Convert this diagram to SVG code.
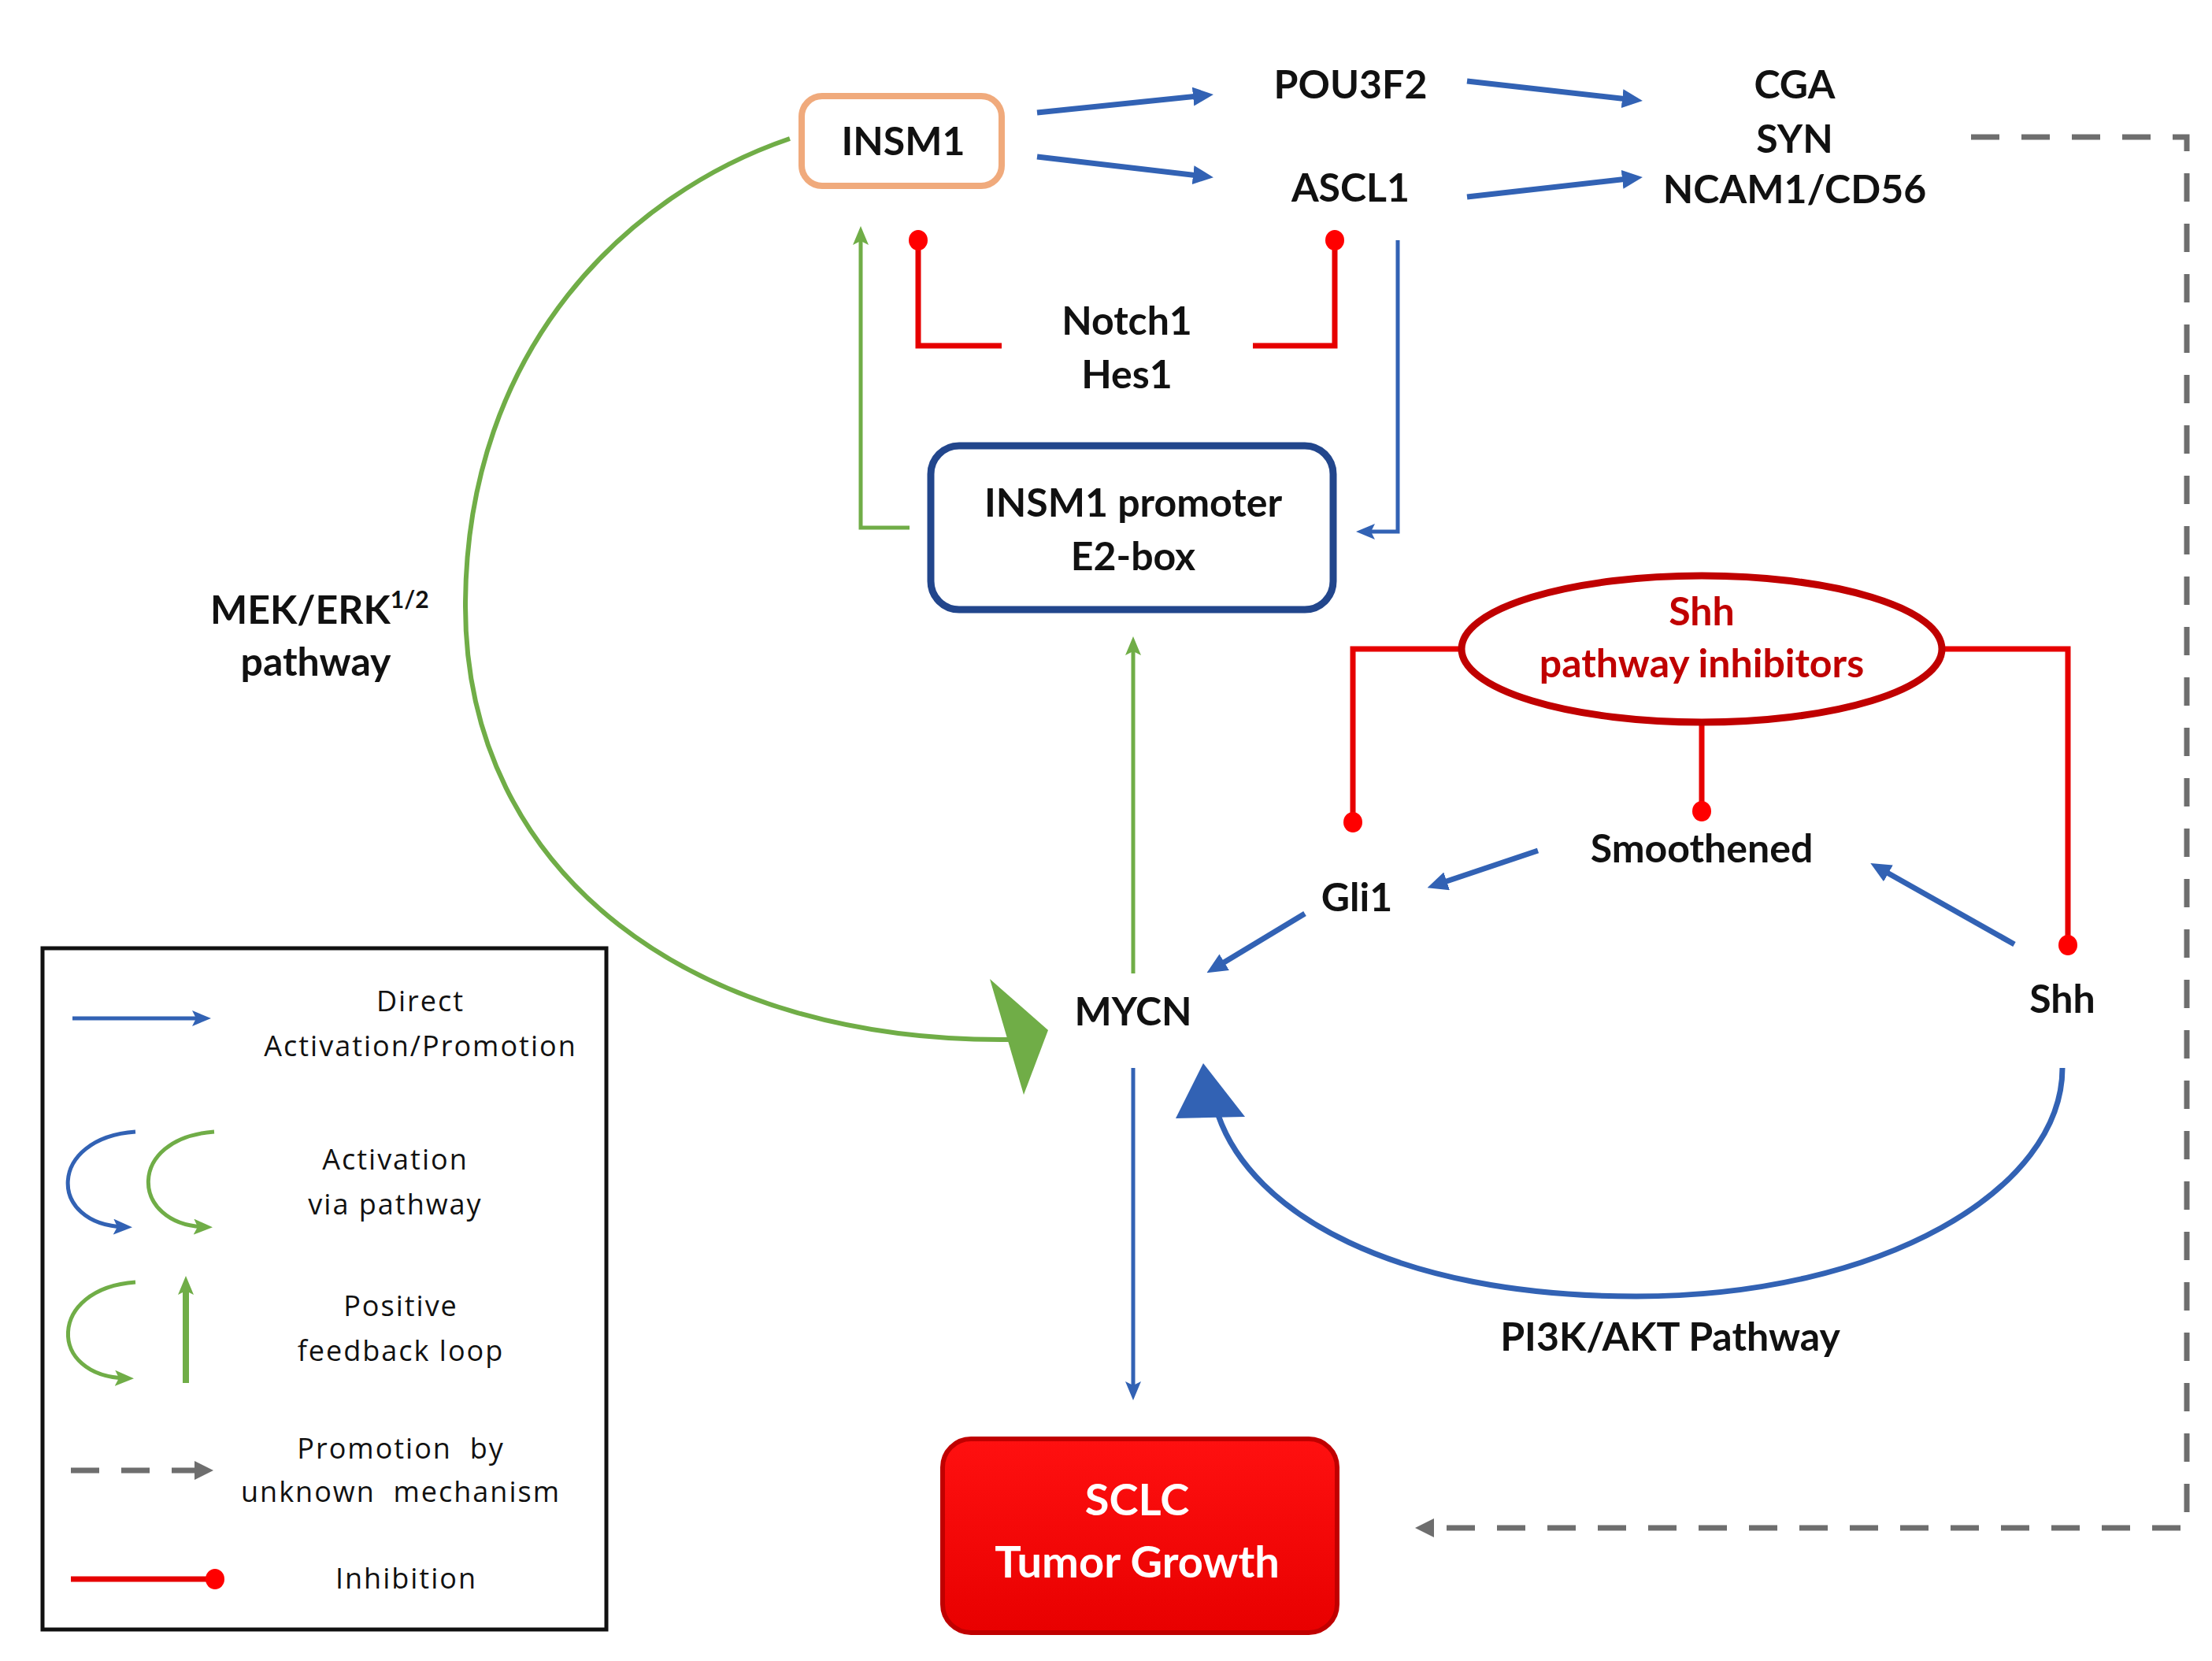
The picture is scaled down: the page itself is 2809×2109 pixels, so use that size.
<svg xmlns="http://www.w3.org/2000/svg" width="2809" height="2109" viewBox="0 0 2809 2109">
<style>
.lb{font-family:Lato,"Open Sans","Liberation Sans",sans-serif;font-weight:700;font-size:50px;text-anchor:middle;fill:#111}
.lg{font-family:"Open Sans","DejaVu Sans",sans-serif;font-size:36px;letter-spacing:2px;text-anchor:middle;fill:#111}
.blue{fill:none;stroke:#3262B4;stroke-width:7}
.blueT{fill:none;stroke:#3262B4;stroke-width:5}
.green{fill:none;stroke:#70AD47;stroke-width:5}
.red{fill:none;stroke:#E60000;stroke-width:7}
.gray{fill:none;stroke:#6E6E6E;stroke-width:7;stroke-dasharray:36 28}
</style>
<defs>
<marker id="mB" markerUnits="userSpaceOnUse" markerWidth="26" markerHeight="24" refX="16" refY="12" orient="auto"><path d="M0,0 L26,12 L0,24 z" fill="#3262B4"/></marker>
<marker id="mBs" markerUnits="userSpaceOnUse" markerWidth="24" markerHeight="20" refX="14" refY="10" orient="auto"><path d="M0,0 L24,10 L0,20 L5,10 z" fill="#3262B4"/></marker>
<marker id="mG" markerUnits="userSpaceOnUse" markerWidth="24" markerHeight="20" refX="14" refY="10" orient="auto"><path d="M0,0 L24,10 L0,20 L5,10 z" fill="#70AD47"/></marker>
<marker id="mGr" markerUnits="userSpaceOnUse" markerWidth="24" markerHeight="24" refX="12" refY="12" orient="auto"><path d="M0,0 L24,12 L0,24 z" fill="#6E6E6E"/></marker>
<marker id="dot" markerUnits="userSpaceOnUse" markerWidth="28" markerHeight="28" refX="14" refY="14" orient="0"><ellipse cx="14" cy="14" rx="12" ry="13" fill="#FF0000"/></marker>
<linearGradient id="sclcG" x1="0" y1="0" x2="0" y2="1"><stop offset="0" stop-color="#FF1010"/><stop offset="1" stop-color="#E80000"/></linearGradient>
</defs>
<rect width="2809" height="2109" fill="#FFFFFF"/>

<g id="connectors">
<line class="blue" x1="1317" y1="143" x2="1531" y2="121" marker-end="url(#mB)"/>
<line class="blue" x1="1317" y1="199" x2="1531" y2="224" marker-end="url(#mB)"/>
<line class="blue" x1="1863" y1="103" x2="2076" y2="127" marker-end="url(#mB)"/>
<line class="blue" x1="1863" y1="250" x2="2076" y2="226" marker-end="url(#mB)"/>
<polyline class="blueT" points="1775,305 1775,675 1732,675" marker-end="url(#mBs)"/>
<polyline class="green" points="1155,670 1093,670 1093,297" marker-end="url(#mG)"/>
<line class="green" x1="1439" y1="1236" x2="1439" y2="818" marker-end="url(#mG)"/>
<line class="blueT" x1="1439" y1="1356" x2="1439" y2="1768" marker-end="url(#mBs)"/>
<polyline class="red" points="1272,439 1166,439 1166,305" marker-end="url(#dot)"/>
<polyline class="red" points="1591,439 1695,439 1695,305" marker-end="url(#dot)"/>
<polyline class="red" points="1854,824 1718,824 1718,1044" marker-end="url(#dot)"/>
<line class="red" x1="2161" y1="917" x2="2161" y2="1030" marker-end="url(#dot)"/>
<polyline class="red" points="2467,824 2626,824 2626,1200" marker-end="url(#dot)"/>
<line class="blue" x1="1953" y1="1080" x2="1822" y2="1124" marker-end="url(#mB)"/>
<line class="blue" x1="1657" y1="1160" x2="1541" y2="1230" marker-end="url(#mB)"/>
<line class="blue" x1="2558" y1="1199" x2="2384" y2="1101" marker-end="url(#mB)"/>
<!-- MEK/ERK arc -->
<path d="M1003,176 C800,245 591,440 591,770 C591,1110 880,1325 1285,1320" fill="none" stroke="#70AD47" stroke-width="6"/>
<polygon points="1257,1243 1331,1308 1300,1390" fill="#70AD47"/>
<!-- PI3K/AKT arc -->
<path d="M2619,1356 C2619,1510 2390,1646 2078,1646 C1770,1646 1590,1540 1547,1416" fill="none" stroke="#3262B4" stroke-width="7"/>
<polygon points="1528,1350 1493,1420 1581,1418" fill="#3262B4"/>
<!-- unknown mechanism -->
<polyline class="gray" points="2503,174 2777,174 2777,1940 1809,1940" marker-end="url(#mGr)"/>
</g>

<g id="node-insm1">
<rect x="1018" y="122" width="254" height="114" rx="26" fill="#FFFFFF" stroke="#F0AA7C" stroke-width="8"/>
<text class="lb" x="1147" y="197">INSM1</text>
</g>
<g id="node-pou3f2"><text class="lb" x="1715" y="125">POU3F2</text></g>
<g id="node-ascl1"><text class="lb" x="1715" y="256">ASCL1</text></g>
<g id="node-markers">
<text class="lb" x="2279" y="125">CGA</text>
<text class="lb" x="2279" y="194">SYN</text>
<text class="lb" x="2279" y="258">NCAM1/CD56</text>
</g>
<g id="node-notch">
<text class="lb" x="1431" y="425">Notch1</text>
<text class="lb" x="1431" y="493">Hes1</text>
</g>
<g id="node-promoter">
<rect x="1182" y="566" width="511" height="208" rx="36" fill="#FFFFFF" stroke="#22468C" stroke-width="9"/>
<text class="lb" x="1439" y="656">INSM1 promoter</text>
<text class="lb" x="1439" y="724">E2-box</text>
</g>
<g id="label-mekerk">
<text class="lb" x="267" y="792" style="text-anchor:start">MEK/ERK<tspan font-size="30" dy="-20">1/2</tspan></text>
<text class="lb" x="401" y="858">pathway</text>
</g>
<g id="node-shh-inhibitors">
<ellipse cx="2161" cy="824" rx="305" ry="93" fill="#FFFFFF" stroke="#C00000" stroke-width="9"/>
<text class="lb" x="2161" y="794" style="fill:#C00000">Shh</text>
<text class="lb" x="2161" y="860" style="fill:#C00000">pathway inhibitors</text>
</g>
<g id="node-smoothened"><text class="lb" x="2161" y="1095">Smoothened</text></g>
<g id="node-gli1"><text class="lb" x="1723" y="1157">Gli1</text></g>
<g id="node-mycn"><text class="lb" x="1439" y="1302">MYCN</text></g>
<g id="node-shh"><text class="lb" x="2619" y="1286">Shh</text></g>
<g id="label-pi3k"><text class="lb" x="2121" y="1715">PI3K/AKT Pathway</text></g>
<g id="node-sclc">
<rect x="1197" y="1827" width="501" height="246" rx="36" fill="url(#sclcG)" stroke="#C00000" stroke-width="6"/>
<text class="lb" x="1444" y="1924" style="fill:#FFFFFF;font-size:56px">SCLC</text>
<text class="lb" x="1444" y="2003" style="fill:#FFFFFF;font-size:56px">Tumor Growth</text>
</g>

<g id="legend">
<rect x="54" y="1204" width="716" height="865" fill="#FFFFFF" stroke="#111" stroke-width="5"/>
<line class="blueT" x1="92" y1="1293" x2="258" y2="1293" marker-end="url(#mBs)"/>
<text class="lg" x="534" y="1284">Direct</text>
<text class="lg" x="534" y="1341">Activation/Promotion</text>
<path d="M172,1437 C60,1445 60,1555 158,1558" fill="none" stroke="#3262B4" stroke-width="5" marker-end="url(#mBs)"/>
<path d="M272,1437 C160,1445 165,1555 260,1558" fill="none" stroke="#70AD47" stroke-width="5" marker-end="url(#mG)"/>
<text class="lg" x="502" y="1485">Activation</text>
<text class="lg" x="502" y="1542">via pathway</text>
<path d="M172,1628 C60,1636 60,1748 160,1750" fill="none" stroke="#70AD47" stroke-width="5" marker-end="url(#mG)"/>
<line x1="236" y1="1756" x2="236" y2="1630" stroke="#70AD47" stroke-width="8" marker-end="url(#mG)"/>
<text class="lg" x="509" y="1671">Positive</text>
<text class="lg" x="509" y="1728">feedback loop</text>
<line class="gray" x1="90" y1="1867" x2="259" y2="1867" marker-end="url(#mGr)"/>
<text class="lg" x="509" y="1852" xml:space="preserve">Promotion  by</text>
<text class="lg" x="509" y="1907" xml:space="preserve">unknown  mechanism</text>
<line class="red" x1="90" y1="2005" x2="273" y2="2005" marker-end="url(#dot)"/>
<text class="lg" x="516" y="2017">Inhibition</text>
</g>
</svg>
